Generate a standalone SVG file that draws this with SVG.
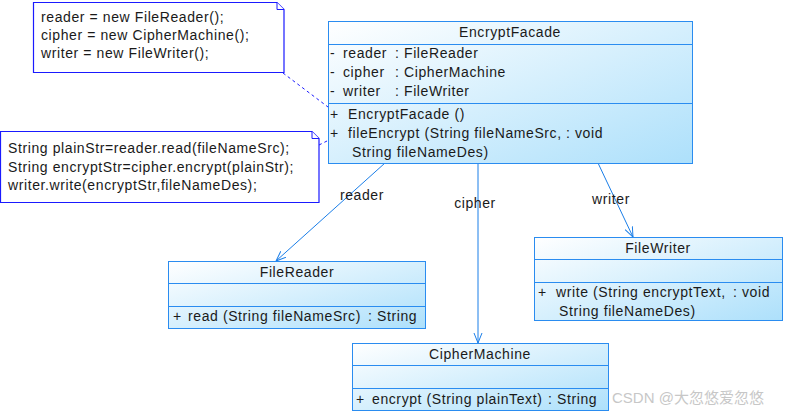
<svg xmlns="http://www.w3.org/2000/svg" width="785" height="413" viewBox="0 0 785 413">
<defs>
<linearGradient id="cls" x1="0" y1="0" x2="1" y2="1">
<stop offset="0" stop-color="#ffffff"/>
<stop offset="1" stop-color="#ade0fb"/>
</linearGradient>
<marker id="open" markerWidth="12" markerHeight="12" refX="10" refY="5" orient="auto" markerUnits="userSpaceOnUse">
<path d="M0,1 L10,5 L0,9" fill="none" stroke="#1a7ee8" stroke-width="1"/>
</marker>
<style>
text{font-family:"Liberation Sans",Arial,sans-serif;font-size:14px;letter-spacing:0.6px;fill:#1a1a1a}
.box{fill:url(#cls);stroke:#2a8cf0;stroke-width:1}
.sep{stroke:#2a8cf0;stroke-width:1}
.note{fill:#ffffff;stroke:#1a1aff;stroke-width:1.2}
.fold{fill:#ffffff;stroke:#1a1aff;stroke-width:1}
.assoc{stroke:#1a7ee8;stroke-width:1;fill:none;marker-end:url(#open)}
.dash{stroke:#1a1aff;stroke-width:1;stroke-dasharray:3,3;fill:none}
.c{text-anchor:middle}
</style>
</defs>
<g id="connectors">
<path class="dash" d="M283,73 L328,107"/>
<path class="dash" d="M319,145 L329,140"/>
<path class="assoc" d="M385,163 L276,261"/>
<path class="assoc" d="M478,163 L478,343"/>
<path class="assoc" d="M598,163 L633,237"/>
<text x="362" y="200" class="c">reader</text>
<text x="475" y="208" class="c">cipher</text>
<text x="611" y="204" class="c">writer</text>
</g>
<g id="note1">
<path class="note" d="M33.5,2.5 L277,2.5 L284,9.5 L284,72.5 L33.5,72.5 Z"/>
<path class="fold" d="M277,2.5 L277,9.5 L284,9.5"/>
<text x="41" y="22">reader = new FileReader();</text>
<text x="41" y="40">cipher = new CipherMachine();</text>
<text x="41" y="58">writer = new FileWriter();</text>
</g>
<g id="note2">
<path class="note" d="M0.5,131.5 L312,131.5 L319,138.5 L319,202.5 L0.5,202.5 Z"/>
<path class="fold" d="M312,131.5 L312,138.5 L319,138.5"/>
<text x="8" y="153">String plainStr=reader.read(fileNameSrc);</text>
<text x="8" y="172">String encryptStr=cipher.encrypt(plainStr);</text>
<text x="8" y="190">writer.write(encryptStr,fileNameDes);</text>
</g>
<g id="EncryptFacade">
<rect class="box" x="328.5" y="21.5" width="364" height="142"/>
<line class="sep" x1="328.5" y1="44.5" x2="692.5" y2="44.5"/>
<line class="sep" x1="328.5" y1="103.5" x2="692.5" y2="103.5"/>
<text x="510" y="37" class="c">EncryptFacade</text>
<text x="330" y="58">-</text><text x="343" y="58">reader</text><text x="395" y="58">: FileReader</text>
<text x="330" y="77">-</text><text x="343" y="77">cipher</text><text x="395" y="77">: CipherMachine</text>
<text x="330" y="96">-</text><text x="343" y="96">writer</text><text x="395" y="96">: FileWriter</text>
<text x="330" y="119">+</text><text x="348" y="119">EncryptFacade ()</text>
<text x="330" y="138">+</text><text x="348" y="138">fileEncrypt (String fileNameSrc,</text><text x="566" y="138">: void</text>
<text x="352" y="157">String fileNameDes)</text>
</g>
<g id="FileReader">
<rect class="box" x="168.5" y="261.5" width="257" height="67"/>
<line class="sep" x1="168.5" y1="283.5" x2="425.5" y2="283.5"/>
<line class="sep" x1="168.5" y1="306.5" x2="425.5" y2="306.5"/>
<text x="297" y="277" class="c">FileReader</text>
<text x="173" y="321">+</text><text x="188" y="321">read (String fileNameSrc)</text><text x="368" y="321">: String</text>
</g>
<g id="CipherMachine">
<rect class="box" x="352.5" y="343.5" width="256" height="67"/>
<line class="sep" x1="352.5" y1="365.5" x2="608.5" y2="365.5"/>
<line class="sep" x1="352.5" y1="388.5" x2="608.5" y2="388.5"/>
<text x="480" y="359" class="c">CipherMachine</text>
<text x="356" y="404">+</text><text x="372" y="404">encrypt (String plainText)</text><text x="548" y="404">: String</text>
</g>
<g id="FileWriter">
<rect class="box" x="534.5" y="237.5" width="248" height="83"/>
<line class="sep" x1="534.5" y1="259.5" x2="782.5" y2="259.5"/>
<line class="sep" x1="534.5" y1="282.5" x2="782.5" y2="282.5"/>
<text x="658" y="253" class="c">FileWriter</text>
<text x="538" y="297">+</text><text x="556" y="297">write (String encryptText,</text><text x="733" y="297">: void</text>
<text x="559" y="316">String fileNameDes)</text>
</g>
<text x="612" y="403" style="font-family:'Liberation Sans','Noto Sans CJK SC',sans-serif;font-size:15px;letter-spacing:0;fill:#9a9a9a;opacity:0.55">CSDN @大忽悠爱忽悠</text>
</svg>
